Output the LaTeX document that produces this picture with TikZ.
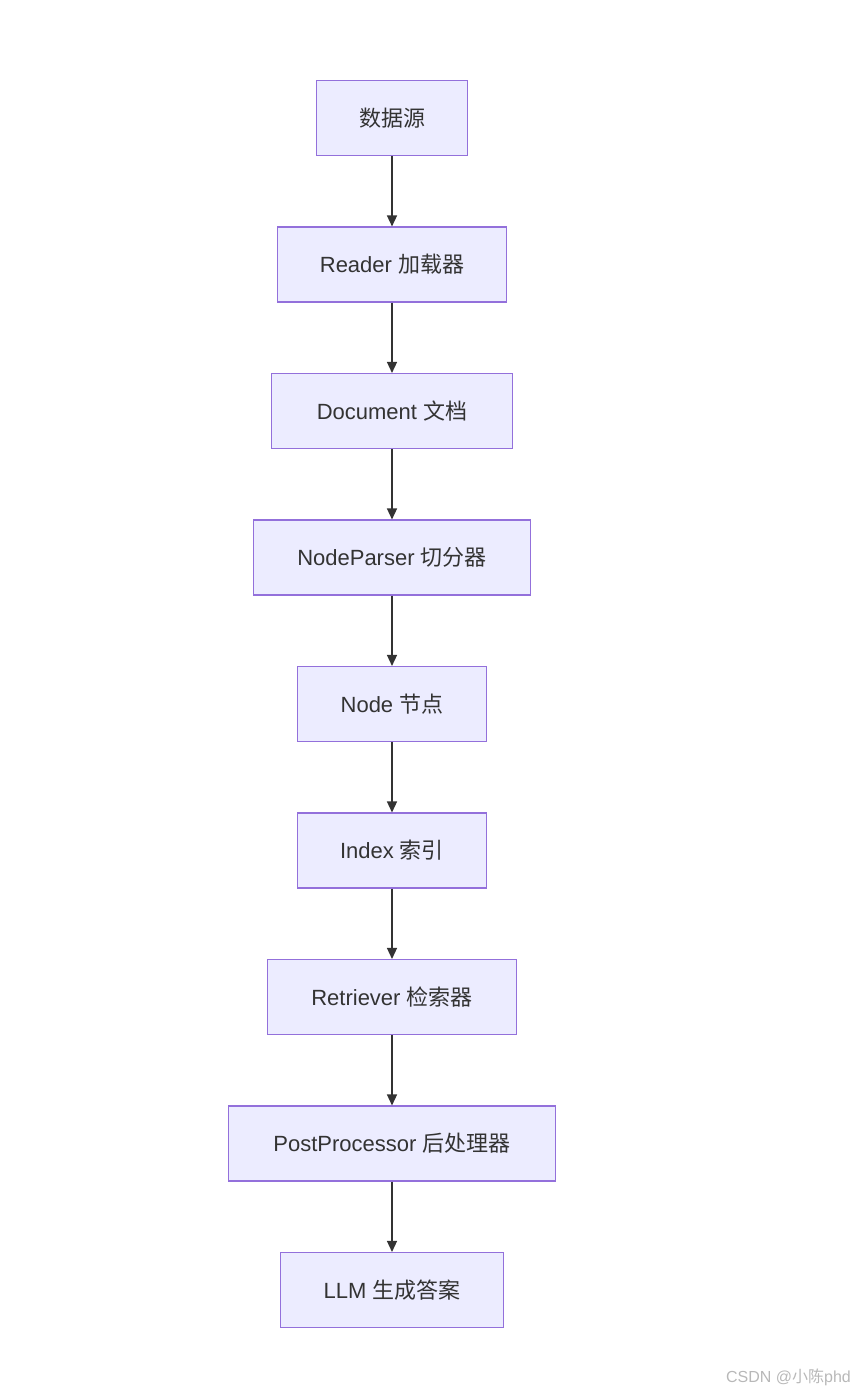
\documentclass[tikz,border=0pt]{standalone}
\usepackage{fontspec}
\setmainfont{Liberation Sans}
\newfontfamily\cjk{Noto Sans CJK SC}
\usepackage{tikz}
\usetikzlibrary{arrows.meta, positioning}

\definecolor{boxfill}{HTML}{ECECFF}
\definecolor{boxline}{HTML}{9370DB}
\definecolor{inkgray}{HTML}{333333}

\newcommand{\zh}[1]{{\cjk #1}}

\tikzset{
  flowbox/.style={draw=boxline, line width=1.1pt, fill=boxfill, text=inkgray,
    minimum height=75pt, inner xsep=0pt, font=\fontsize{22pt}{26pt}\selectfont},
  flowarrow/.style={draw=inkgray, line width=1.4pt, -{Triangle[length=11pt,width=10pt]}}
}

\begin{document}
\begin{tikzpicture}[node distance=70.4pt]

\useasboundingbox (0,0) rectangle (854pt,-1392pt);

% Pipeline stages
\node[flowbox, minimum width=151pt] (src) at (392pt,-118pt) {\zh{数据源}};
\node[flowbox, minimum width=229pt, below=of src] (reader) {Reader \zh{加载器}};
\node[flowbox, minimum width=241pt, below=of reader] (doc) {Document \zh{文档}};
\node[flowbox, minimum width=277pt, below=of doc] (parser) {NodeParser \zh{切分器}};
\node[flowbox, minimum width=189pt, below=of parser] (nd) {Node \zh{节点}};
\node[flowbox, minimum width=189pt, below=of nd] (index) {Index \zh{索引}};
\node[flowbox, minimum width=249pt, below=of index] (retr) {Retriever \zh{检索器}};
\node[flowbox, minimum width=327pt, below=of retr] (post) {PostProcessor \zh{后处理器}};
\node[flowbox, minimum width=223pt, below=of post] (llm) {LLM \zh{生成答案}};

% Connectors
\draw[flowarrow] (src) -- (reader);
\draw[flowarrow] (reader) -- (doc);
\draw[flowarrow] (doc) -- (parser);
\draw[flowarrow] (parser) -- (nd);
\draw[flowarrow] (nd) -- (index);
\draw[flowarrow] (index) -- (retr);
\draw[flowarrow] (retr) -- (post);
\draw[flowarrow] (post) -- (llm);

% Watermark
\node[anchor=east, text=black!28, font=\fontsize{16pt}{19pt}\selectfont, inner sep=0pt] (mark) at (851pt,-1377pt) {CSDN @\zh{小陈}phd};

\end{tikzpicture}
\end{document}
